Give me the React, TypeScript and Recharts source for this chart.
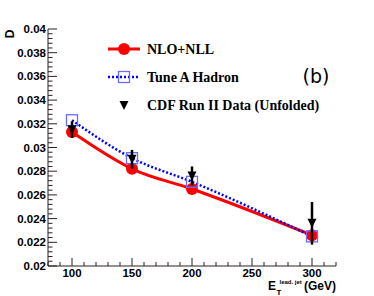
import React from 'react';
import { ComposedChart, Line, XAxis, YAxis, ErrorBar } from 'recharts';

const energies = [100, 150, 200, 300];
const nloNll = [0.0313, 0.0282, 0.0265, 0.0226];
const tuneA = [0.0323, 0.0291, 0.0271, 0.0225];
const cdfData = [0.0315, 0.029, 0.0276, 0.0236];
const cdfErr = [0.0007, 0.0008, 0.0008, 0.0018];

const xMajor = [100, 150, 200, 250, 300];
const yMajor = [0.02, 0.022, 0.024, 0.026, 0.028, 0.03, 0.032, 0.034, 0.036, 0.038, 0.04];
const yLabels = ['0.02', '0.022', '0.024', '0.026', '0.028', '0.03', '0.032', '0.034', '0.036', '0.038', '0.04'];

// minor ticks: 10 GeV steps on x, 5 subdivisions per major on y
const xTicks = Array.from({ length: 25 }, (_, i) => 80 + i * 10);
const yTicks = Array.from({ length: 51 }, (_, i) => +(0.02 + i * 0.0004).toFixed(4));

const data = energies.map((e, i) => ({
  e,
  nll: nloNll[i],
  tune: tuneA[i],
  cdf: cdfData[i],
  err: cdfErr[i],
}));

const W = 374;
const H = 296;
const AXIS = '#2b2222';
const LABEL_FONT = '"Liberation Sans", Arial, sans-serif';
const SERIF = '"Liberation Serif", "Times New Roman", serif';

const isMajor = (v: number, list: number[]) => list.some((m) => Math.abs(m - v) < 1e-6);

const YTick = (props: any) => {
  const { x, y, payload } = props;
  const v = payload.value;
  const idx = yMajor.findIndex((m) => Math.abs(m - v) < 1e-6);
  const len = idx >= 0 ? 9 : 4.5;
  return (
    <g>
      <line x1={x} x2={x + len} y1={y} y2={y} stroke={AXIS} strokeWidth={1} />
      {idx >= 0 && (
        <text x={x - 2} y={y + 4} textAnchor="end" fontFamily={LABEL_FONT} fontWeight="bold" fontSize={11.5} fill="#000">
          {yLabels[idx]}
        </text>
      )}
    </g>
  );
};

const XTick = (props: any) => {
  const { x, y, payload } = props;
  const major = isMajor(payload.value, xMajor);
  const len = major ? 8 : 4;
  return (
    <g>
      <line x1={x} x2={x} y1={y} y2={y - len} stroke={AXIS} strokeWidth={1} />
      {major && (
        <text x={x} y={y + 11} textAnchor="middle" fontFamily={LABEL_FONT} fontWeight="bold" fontSize={11.5} fill="#000">
          {payload.value}
        </text>
      )}
    </g>
  );
};

const SquareDot = (props: any) => {
  const { cx, cy } = props;
  if (cx == null || cy == null) return null;
  return <rect x={cx - 5.5} y={cy - 5.5} width={11} height={11} fill="none" stroke="#6b6bff" strokeWidth={1.3} />;
};

const TriangleDot = (props: any) => {
  const { cx, cy } = props;
  if (cx == null || cy == null) return null;
  return <polygon points={`${cx - 4.5},${cy - 4.5} ${cx + 4.5},${cy - 4.5} ${cx},${cy + 4.5}`} fill="#000" />;
};

function Overlay() {
  return (
    <svg width={W} height={H} style={{ position: 'absolute', left: 0, top: 0, pointerEvents: 'none' }}>
      {/* legend */}
      <line x1={108} x2={140} y1={49} y2={49} stroke="#ff0000" strokeWidth={3} />
      <circle cx={124} cy={49} r={6} fill="#ff0000" />
      <text x={147} y={54} fontFamily={SERIF} fontWeight="bold" fontSize={14} fill="#000">NLO+NLL</text>

      <line x1={108} x2={140} y1={77} y2={77} stroke="#0000ff" strokeWidth={2.5} strokeDasharray="2 2" />
      <rect x={118.5} y={71.5} width={11} height={11} fill="none" stroke="#6b6bff" strokeWidth={1.3} />
      <text x={147} y={82} fontFamily={SERIF} fontWeight="bold" fontSize={14} fill="#000">Tune A Hadron</text>

      <polygon points="119.5,101 128.5,101 124,110" fill="#000" />
      <text x={147} y={110} fontFamily={SERIF} fontWeight="bold" fontSize={14} fill="#000">CDF Run II Data (Unfolded)</text>

      <text x={316} y={83} textAnchor="middle" fontFamily='"DejaVu Sans", sans-serif' fontSize={19} fill="#000">(b)</text>

      {/* axis titles */}
      <text x={14} y={34} transform="rotate(-90 14 34)" textAnchor="middle" fontFamily={LABEL_FONT} fontWeight="bold" fontSize={12} fill="#000">D</text>
      <text x={268} y={289.5} fontFamily={LABEL_FONT} fontWeight="bold" fontSize={12} fill="#000">
        <tspan>E</tspan>
        <tspan x={276.5} dy={5} fontSize={8}>T</tspan>
        <tspan x={279.5} dy={-11} fontSize={6}>lead. jet</tspan>
        <tspan x={304} dy={6} fontSize={12}>(GeV)</tspan>
      </text>
    </svg>
  );
}

export default function App() {
  return (
    <div style={{ position: 'absolute', left: 0, top: 0, width: W, height: H, background: '#fff' }}>
      <ComposedChart width={W} height={H} data={data} margin={{ top: 29, right: 38, bottom: 0, left: 0 }}>
        <XAxis
          xAxisId="bottom"
          dataKey="e"
          type="number"
          domain={[80, 320]}
          ticks={xTicks}
          interval={0}
          tickSize={0}
          tickMargin={0}
          tickLine={false}
          tick={<XTick />}
          axisLine={{ stroke: AXIS, strokeWidth: 1 }}
          height={30}
          allowDataOverflow
        />
        <XAxis
          xAxisId="top"
          orientation="top"
          dataKey="e"
          type="number"
          domain={[80, 320]}
          tick={false}
          tickLine={false}
          axisLine={{ stroke: AXIS, strokeWidth: 1 }}
          height={0}
        />
        <YAxis
          yAxisId="left"
          type="number"
          domain={[0.02, 0.04]}
          ticks={yTicks}
          interval={0}
          tickSize={0}
          tickMargin={0}
          tickLine={false}
          tick={<YTick />}
          axisLine={{ stroke: AXIS, strokeWidth: 1 }}
          width={48}
          allowDataOverflow
        />
        <YAxis
          yAxisId="right"
          orientation="right"
          type="number"
          domain={[0.02, 0.04]}
          tick={false}
          tickLine={false}
          axisLine={{ stroke: AXIS, strokeWidth: 1 }}
          width={0}
        />
        <Line
          xAxisId="bottom"
          yAxisId="left"
          type="monotone"
          dataKey="nll"
          stroke="#ff0000"
          strokeWidth={3}
          dot={{ r: 6, fill: '#ff0000', stroke: '#ff0000', strokeWidth: 0 }}
          isAnimationActive={false}
        />
        <Line
          xAxisId="bottom"
          yAxisId="left"
          type="monotone"
          dataKey="tune"
          stroke="#0000ff"
          strokeWidth={2.5}
          strokeDasharray="2 2"
          dot={<SquareDot />}
          isAnimationActive={false}
        />
        <Line
          xAxisId="bottom"
          yAxisId="left"
          dataKey="cdf"
          stroke="none"
          dot={<TriangleDot />}
          isAnimationActive={false}
        >
          {/* @ts-ignore zIndex lifts the bars above the other series' markers */}
          <ErrorBar dataKey="err" direction="y" width={0} stroke="#000" strokeWidth={2.5} zIndex={1500} />
        </Line>
      </ComposedChart>
      <Overlay />
    </div>
  );
}
